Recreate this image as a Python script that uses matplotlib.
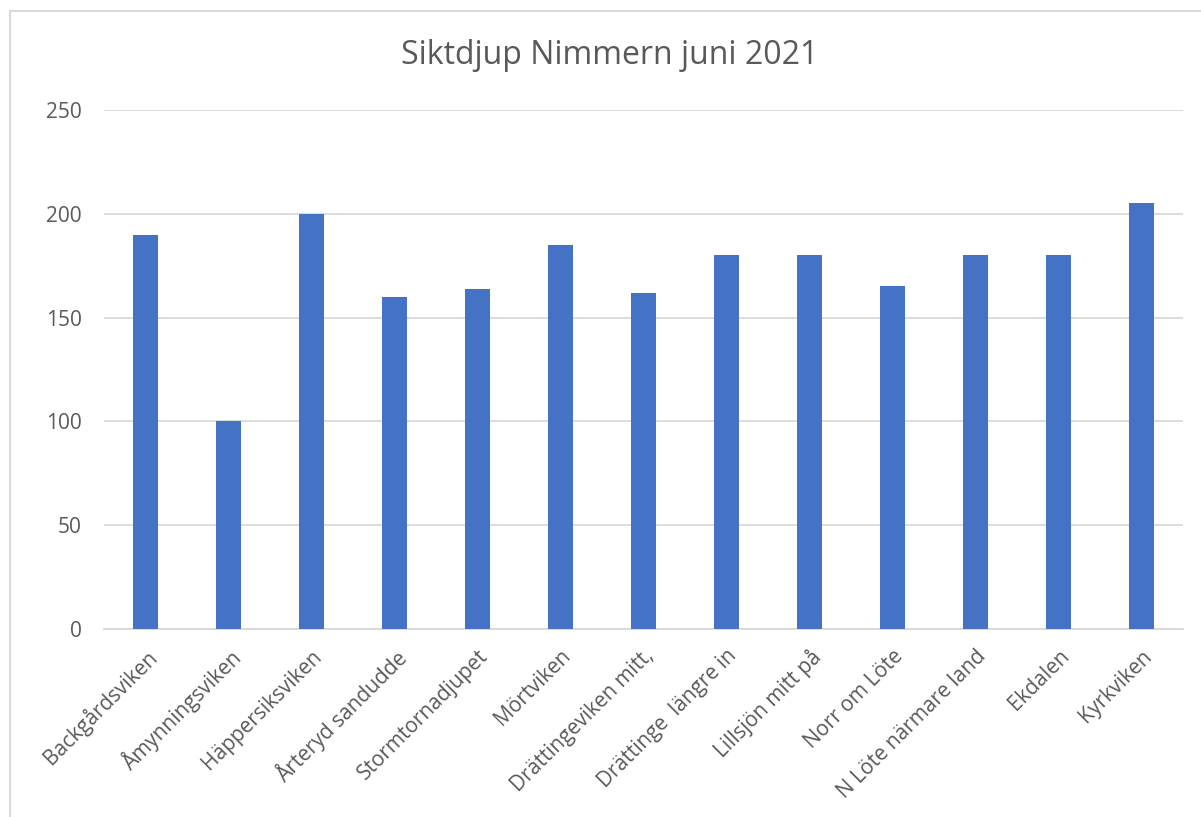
import matplotlib.pyplot as plt
from matplotlib.patches import Rectangle

# --- Data ---
SITES = [
    "Backgårdsviken", "Åmynningsviken", "Häppersiksviken", "Årteryd sandudde",
    "Stormtornadjupet", "Mörtviken", "Drättingeviken mitt,", "Drättinge  längre in",
    "Lillsjön mitt på", "Norr om Löte", "N Löte närmare land", "Ekdalen", "Kyrkviken",
]
DEPTH = [190, 100, 200, 160, 164, 185, 162, 180, 180, 165, 180, 180, 205]
Y_TICKS = [0, 50, 100, 150, 200, 250]

TEXT_COLOR = "#595959"
GRID_COLOR = "#d9d9d9"
BAR_COLOR = "#4472C4"

plt.rcParams["font.family"] = ["Open Sans", "DejaVu Sans"]

W, H = 1201, 817
fig = plt.figure(figsize=(W / 100, H / 100), dpi=100)
ax = fig.add_axes([104 / W, 1 - 629 / H, (1183 - 104) / W, (629 - 110) / H])

x = range(len(SITES))
ax.bar(x, DEPTH, width=0.31, color=BAR_COLOR, zorder=3)

ax.set_xlim(-0.5, len(SITES) - 0.5)
ax.set_ylim(0, 250)
ax.set_yticks(Y_TICKS)
ax.set_yticklabels([str(v) for v in Y_TICKS])
ax.yaxis.grid(True, color=GRID_COLOR, linewidth=1.3, zorder=0)

ax.set_xticks(list(x))
ax.set_xticklabels(SITES, rotation=45, ha="right", va="top",
                   rotation_mode="anchor")

for side in ["top", "right", "left"]:
    ax.spines[side].set_visible(False)
ax.spines["bottom"].set_color(GRID_COLOR)
ax.spines["bottom"].set_linewidth(1.3)
ax.tick_params(axis="both", length=0, colors=TEXT_COLOR, labelsize=15)
ax.tick_params(axis="y", pad=16)
ax.tick_params(axis="x", pad=12)

fig.text(610 / W, 1 - 56 / H, "Siktdjup Nimmern juni 2021", ha="center",
         va="center", fontsize=23, color=TEXT_COLOR)

# chart area border, running off the right and bottom edges
fig.patches.append(Rectangle((10 / W, -0.05), 1.1, 1 - 11 / H + 0.05,
                             transform=fig.transFigure, fill=False,
                             edgecolor=GRID_COLOR, linewidth=1.5))

fig.savefig("out.png", dpi=100, facecolor="white")
